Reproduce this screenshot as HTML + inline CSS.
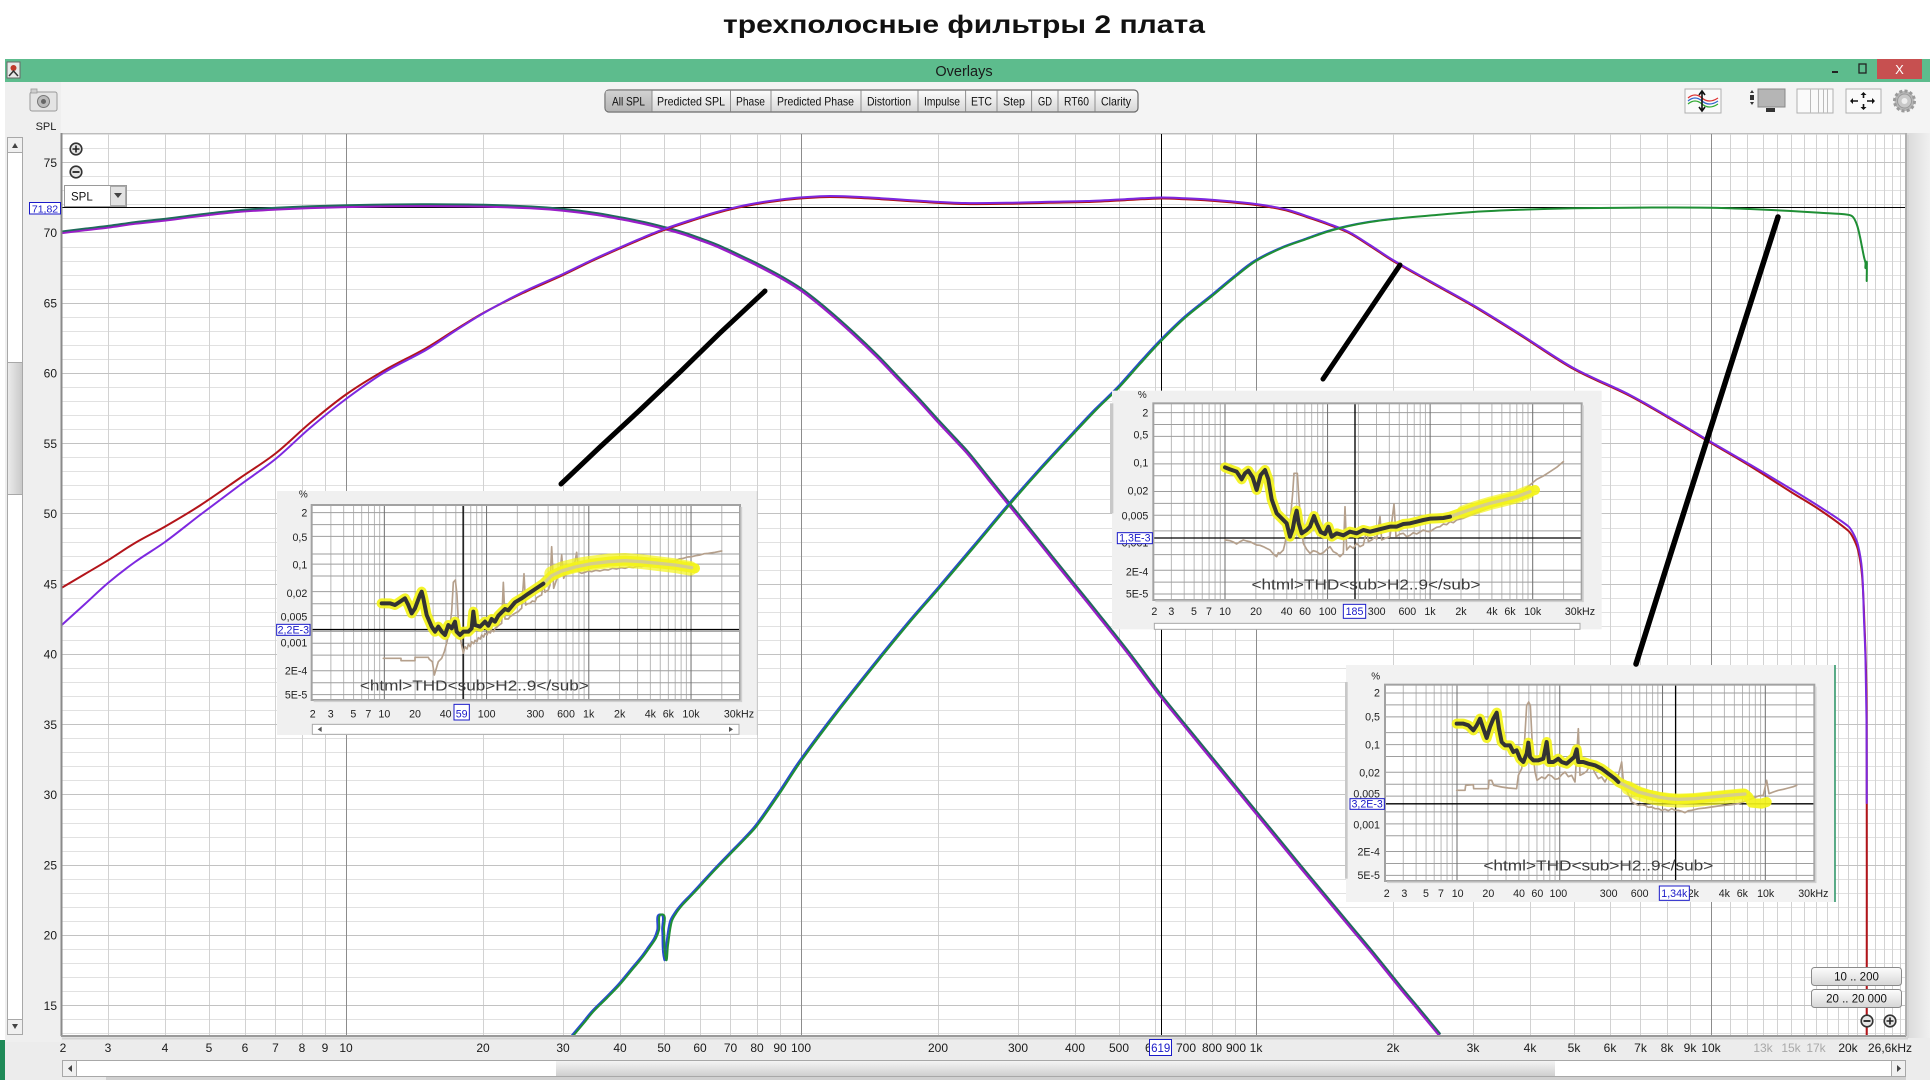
<!DOCTYPE html>
<html><head><meta charset="utf-8"><style>
html,body{margin:0;padding:0;background:#fff;overflow:hidden;}
svg{display:block;font-family:"Liberation Sans",Arial,sans-serif;}
</style></head><body>
<svg xmlns="http://www.w3.org/2000/svg" width="1930" height="1080" viewBox="0 0 1930 1080">
<defs>
<linearGradient id="btn" x1="0" y1="0" x2="0" y2="1"><stop offset="0" stop-color="#fdfdfd"/><stop offset="1" stop-color="#d6d6d6"/></linearGradient>
<linearGradient id="btnp" x1="0" y1="0" x2="0" y2="1"><stop offset="0" stop-color="#d2d2d2"/><stop offset="1" stop-color="#b4b4b4"/></linearGradient>
<linearGradient id="thumbh" x1="0" y1="0" x2="0" y2="1"><stop offset="0" stop-color="#f4f4f4"/><stop offset="1" stop-color="#cfcfcf"/></linearGradient>
<linearGradient id="thumbv" x1="0" y1="0" x2="1" y2="0"><stop offset="0" stop-color="#ececec"/><stop offset="1" stop-color="#c8c8c8"/></linearGradient>
<linearGradient id="rside" x1="0" y1="0" x2="1" y2="0"><stop offset="0" stop-color="#d8d8d8"/><stop offset="1" stop-color="#f0f0f0"/></linearGradient>
<clipPath id="plotclip"><rect x="61" y="133" width="1844" height="902"/></clipPath>
<clipPath id="lowclip"><rect x="400" y="133" width="1000" height="902"/></clipPath>
<path id="woof" class="sm" fill="none" d="M60.7,233 L85,230 108,227.3 135,223.5 165,220.3 190,217 209,214.7 240,211.5 275.5,209.3 310,207.8 346,206.8 390,206 426,205.8 483,206.3 530,208 563,210.5 595,214.5 620,218.9 643,223.5 664,228.7 683,234 700,240 716,246 730.5,252.6 745,259.5 757,265.3 780,277.5 801,290.5 827,311 853,334 877,357 899,380 919,401 938,422 953,438 967,453 988,479 1009,505 1030,531 1050,556 1075,587 1100,618 1130,656 1161,697 1200,745 1250,806 1300,867 1350,927 1375,957 1400,988 1420,1012 1439,1035"/>
<path id="tw" class="sm" fill="none" d="M573.9,1035 L584,1023 593.6,1011.3 607,998 619.9,984.6 632,970 643.2,956.5 650,947 655.9,938.3 659,930 662,914.4 664,930 666,959.3 668,945 671.8,921.4 677,912 682.9,904.5 692,895 700.1,886.3 715,870 730.5,853.9 745,839 756.9,825.9 780,793 801,761.2 840,709 881,657.3 910,622 937.9,589.8 975,546 1009.4,505 1042,468 1074.9,432.4 1097,409 1119,387.5 1140,364 1161,341.2 1186,317 1211.9,296.2 1235,277 1256,261 1282,248 1308,238.6 1328,231.5 1349,226 1370,222 1393,219 1430,215.5 1473,212 1520,209.8 1574,208.3 1640,207.6 1711,207.7 1750,209 1791,211 1820,212.8 1848,214.7 1853,217 1857,225 1860,237 1862,247 1864,257 1865.5,263 1866,268 1866.7,262 1866.7,281"/>
</defs>

<!-- page background -->
<rect x="0" y="0" width="1930" height="1080" fill="#ffffff"/>
<text x="723" y="33" font-size="25" font-weight="bold" fill="#111" textLength="482" lengthAdjust="spacingAndGlyphs">трехполосные фильтры 2 плата</text>

<!-- window body -->
<rect x="5" y="59" width="1925" height="1021" fill="#ececec"/>
<rect x="5" y="82" width="1925" height="51" fill="#f4f4f4"/>
<rect x="5" y="82" width="56" height="960" fill="#efefef"/>
<rect x="1905" y="133" width="25" height="905" fill="url(#rside)"/>
<rect x="0" y="1040" width="5" height="40" fill="#1f8a58"/>

<!-- title bar -->
<rect x="5" y="59" width="1925" height="23" fill="#5dbc8d"/>
<rect x="7" y="62" width="13" height="16" fill="#e8e8e8" stroke="#666" stroke-width="1"/>
<circle cx="13.5" cy="68" r="3" fill="#c0392b"/>
<path d="M9 76 L13.5 71 L18 76" fill="none" stroke="#333" stroke-width="1.5"/>
<text x="964" y="76" font-size="14.5" fill="#1a1a1a" text-anchor="middle">Overlays</text>
<rect x="1832" y="71" width="6" height="2" fill="#222"/>
<rect x="1859" y="64" width="7" height="9" fill="none" stroke="#222" stroke-width="1.3"/>
<rect x="1877" y="59" width="45" height="20" fill="#c75050"/>
<text x="1899.5" y="74" font-size="13" fill="#fff" text-anchor="middle">X</text>

<!-- camera icon -->
<rect x="30" y="92" width="27" height="19" rx="2" fill="#e4e4e4" stroke="#9a9a9a"/>
<rect x="31" y="89" width="6" height="4" fill="#cfcfcf" stroke="#9a9a9a" stroke-width="0.8"/>
<circle cx="43.5" cy="101.5" r="6" fill="#bbb" stroke="#777"/>
<circle cx="43.5" cy="101.5" r="2.5" fill="#666"/>
<text x="46" y="130" font-size="11" fill="#222" text-anchor="middle">SPL</text>

<!-- toolbar -->
<rect x="605" y="90" width="533" height="22" rx="4" fill="url(#btn)" stroke="#6a6a6a" stroke-width="1.2"/>
<path d="M605.6 92 Q605.6 90.6 609 90.6 L652 90.6 L652 111.4 L609 111.4 Q605.6 111.4 605.6 108 Z" fill="url(#btnp)"/>
<path d="M652 90.6V111.4M730.5 90.6V111.4M771 90.6V111.4M861 90.6V111.4M918 90.6V111.4M965.6 90.6V111.4M997 90.6V111.4M1031.6 90.6V111.4M1058 90.6V111.4M1095 90.6V111.4" stroke="#8e8e8e" stroke-width="1"/>
<g font-size="12" fill="#111" text-anchor="start">
<text x="612" y="105.5" textLength="33" lengthAdjust="spacingAndGlyphs">All SPL</text>
<text x="657" y="105.5" textLength="68" lengthAdjust="spacingAndGlyphs">Predicted SPL</text>
<text x="736" y="105.5" textLength="29" lengthAdjust="spacingAndGlyphs">Phase</text>
<text x="777" y="105.5" textLength="77" lengthAdjust="spacingAndGlyphs">Predicted Phase</text>
<text x="867" y="105.5" textLength="44" lengthAdjust="spacingAndGlyphs">Distortion</text>
<text x="924" y="105.5" textLength="36" lengthAdjust="spacingAndGlyphs">Impulse</text>
<text x="971" y="105.5" textLength="21" lengthAdjust="spacingAndGlyphs">ETC</text>
<text x="1003" y="105.5" textLength="22" lengthAdjust="spacingAndGlyphs">Step</text>
<text x="1038" y="105.5" textLength="14" lengthAdjust="spacingAndGlyphs">GD</text>
<text x="1064" y="105.5" textLength="25" lengthAdjust="spacingAndGlyphs">RT60</text>
<text x="1101" y="105.5" textLength="30" lengthAdjust="spacingAndGlyphs">Clarity</text>
</g>

<!-- right icons -->
<rect x="1685" y="89" width="36" height="24" fill="#fafafa" stroke="#b0b0b0"/>
<path d="M1688 98 Q1695 92 1702 98 T1718 98" fill="none" stroke="#d33" stroke-width="1.2"/>
<path d="M1688 101 Q1695 95 1702 101 T1718 101" fill="none" stroke="#36c" stroke-width="1.2"/>
<path d="M1688 104 Q1695 98 1702 104 T1718 104" fill="none" stroke="#3a3" stroke-width="1.2"/>
<path d="M1702 92V110M1699 95L1702 91L1705 95M1699 107L1702 111L1705 107" fill="none" stroke="#111" stroke-width="1.6"/>
<rect x="1758" y="89" width="27" height="18" fill="#b5b5b5" stroke="#888"/>
<rect x="1750" y="95" width="4" height="5" fill="#333"/>
<path d="M1752 90L1750 93H1754ZM1752 105L1750 102H1754Z" fill="#333"/>
<rect x="1766" y="108" width="9" height="4" fill="#333"/>
<rect x="1797" y="89" width="36" height="24" fill="#fafafa" stroke="#b0b0b0"/>
<path d="M1810.5 89V113M1818.5 89V113M1823.5 89V113M1827.5 89V113" stroke="#bbb"/>
<rect x="1846" y="89" width="35" height="24" fill="#fafafa" stroke="#b0b0b0"/>
<path d="M1851 101H1858M1874 101H1867M1863.5 93V98M1863.5 109V104" stroke="#111" stroke-width="1.6"/>
<path d="M1850 101L1853 98V104ZM1875 101L1872 98V104ZM1863.5 92L1860.5 95H1866.5ZM1863.5 110L1860.5 107H1866.5Z" fill="#111"/>
<circle cx="1904.5" cy="101" r="10" fill="#b8b8b8" stroke="#9a9a9a" stroke-width="3" stroke-dasharray="3 2.2"/>
<circle cx="1904.5" cy="101" r="7" fill="#c8c8c8" stroke="#999"/>
<circle cx="1904.5" cy="101" r="3" fill="#eee"/>

<!-- left vertical scrollbar -->
<rect x="7.5" y="137.5" width="15" height="897" fill="#fff" stroke="#a8a8a8"/>
<rect x="7.5" y="137.5" width="15" height="15" fill="#f0f0f0" stroke="#a8a8a8"/>
<path d="M12 148L15 143L18 148Z" fill="#444"/>
<rect x="7.5" y="362.5" width="15" height="132" fill="url(#thumbv)" stroke="#a8a8a8"/>
<rect x="7.5" y="1019.5" width="15" height="15" fill="#f0f0f0" stroke="#a8a8a8"/>
<path d="M12 1024L15 1029L18 1024Z" fill="#444"/>

<!-- plot background -->
<rect x="61" y="133" width="1844" height="902" fill="#fff"/>

<!-- grid -->
<path d="M61 1033.5H1905M61 1019.5H1905M61 991.5H1905M61 977.5H1905M61 963.5H1905M61 949.5H1905M61 921.5H1905M61 907.5H1905M61 893.5H1905M61 879.5H1905M61 851.5H1905M61 837.5H1905M61 823.5H1905M61 809.5H1905M61 780.5H1905M61 766.5H1905M61 752.5H1905M61 738.5H1905M61 710.5H1905M61 696.5H1905M61 682.5H1905M61 668.5H1905M61 640.5H1905M61 626.5H1905M61 612.5H1905M61 598.5H1905M61 570.5H1905M61 556.5H1905M61 542.5H1905M61 528.5H1905M61 499.5H1905M61 485.5H1905M61 471.5H1905M61 457.5H1905M61 429.5H1905M61 415.5H1905M61 401.5H1905M61 387.5H1905M61 359.5H1905M61 345.5H1905M61 331.5H1905M61 317.5H1905M61 289.5H1905M61 275.5H1905M61 261.5H1905M61 247.5H1905M61 218.5H1905M61 204.5H1905M61 190.5H1905M61 176.5H1905M61 148.5H1905M61 134.5H1905" stroke="#e1e1e1" stroke-width="1"/>
<path d="M108.5 133V1035M165.5 133V1035M209.5 133V1035M245.5 133V1035M275.5 133V1035M302.5 133V1035M325.5 133V1035M483.5 133V1035M563.5 133V1035M620.5 133V1035M664.5 133V1035M700.5 133V1035M730.5 133V1035M757.5 133V1035M780.5 133V1035M938.5 133V1035M1018.5 133V1035M1075.5 133V1035M1119.5 133V1035M1155.5 133V1035M1185.5 133V1035M1212.5 133V1035M1235.5 133V1035M1393.5 133V1035M1473.5 133V1035M1530.5 133V1035M1574.5 133V1035M1610.5 133V1035M1640.5 133V1035M1667.5 133V1035M1690.5 133V1035M1730.5 133V1035M1747.5 133V1035M1763.5 133V1035M1777.5 133V1035M1791.5 133V1035M1804.5 133V1035M1816.5 133V1035M1827.5 133V1035M1838.5 133V1035M1848.5 133V1035M1857.5 133V1035M1867.5 133V1035M1875.5 133V1035M1884.5 133V1035M1892.5 133V1035M1900.5 133V1035" stroke="#d2d2d2" stroke-width="1"/>
<path d="M61 1005.5H1905M61 935.5H1905M61 865.5H1905M61 794.5H1905M61 724.5H1905M61 654.5H1905M61 584.5H1905M61 513.5H1905M61 443.5H1905M61 373.5H1905M61 303.5H1905M61 232.5H1905M61 162.5H1905" stroke="#c2c2c2" stroke-width="1"/>
<path d="M346.5 133V1035M801.5 133V1035M1256.5 133V1035M1711.5 133V1035" stroke="#8c8c8c" stroke-width="1"/>

<!-- cursors -->
<path d="M61 207.5H1905M1161.5 133V1035" stroke="#000" stroke-width="1"/>

<!-- curves -->
<g clip-path="url(#plotclip)" fill="none" stroke-linejoin="round" stroke-linecap="round">
<use href="#woof" stroke="#9a1ec8" stroke-width="2.6"/>
<use href="#woof" stroke="#1f6b5b" stroke-width="1.8" transform="translate(1,-1.6)"/>
<path class="sm" stroke="#b3141a" stroke-width="2" d="M60.7,588.4 L85,574 108,560.3 135,543 165,526.6 200,505.5 240,478 275.5,453.5 310,423 346,394.5 385,370 426,348.2 455,330 483,313.1 523,293 563,275.1 592,261 620,248.4 643,238.5 664,230.1 693,220.3 715,213.5 738,207.7 760,203.5 780,200.6 800,198.5 825,197.1 850,197.5 881,199.2 920,201.8 965,204 1018,203.6 1050,202.8 1087,202 1125,200.2 1161,198.5 1185,199.2 1205,200.2 1227,202 1250,204.3 1273,207.7 1290,211.5 1308,217.5 1328,224.5 1349,233 1370,246 1393,261 1430,282 1473,306 1520,335 1574,369.3 1630,396 1680,424.5 1711,443 1750,466 1791,492 1820,510 1848,530.5 1853,537.5 1858,550 1862,575 1864.5,625 1866,670 1866.7,720 1866.7,1040"/>
<path class="sm" stroke="#7d28e0" stroke-width="2" d="M60.7,626 L85,604 108,583 135,562 165,542 200,515 240,485 275.5,459 310,428 346,399 385,372 426,350 455,331 483,313.5 523,292 563,274 592,260 620,247.4 643,237.5 664,229.1 693,219.3 715,212.5 738,206.7 760,202.5 780,199.6 800,197.5 825,196.1 850,196.5 881,198.2 920,200.8 965,203 1018,202.6 1050,201.8 1087,201 1125,199.2 1161,197.5 1185,198.2 1205,199.2 1227,201 1250,203.3 1273,206.7 1290,210.5 1308,216.5 1328,223.5 1349,232 1370,245 1393,260 1430,281 1473,305 1520,334 1574,368.3 1630,395 1680,423.5 1711,442 1750,464.5 1791,489 1820,507 1848,526 1853,533 1858,545 1862,570 1864,620 1865.5,660 1866.5,720 1866.7,803"/>
<use href="#tw" stroke="#2a4bd0" stroke-width="2" transform="translate(-1.8,0)" clip-path="url(#lowclip)"/>
<use href="#tw" stroke="#1f8f35" stroke-width="2"/>
</g>

<!-- plot frame shading -->
<path d="M61 133.5H1905" stroke="#bdbdbd" stroke-width="1"/>
<path d="M61.5 133V1036" stroke="#8a8a8a" stroke-width="2"/>
<path d="M61 1036H1906" stroke="#9a9a9a" stroke-width="2"/>
<path d="M1906 133V1036" stroke="#b0b0b0" stroke-width="2"/>
<path d="M1908 135V1038M62 1038.5H1908" stroke="#d4d4d4" stroke-width="2"/>

<!-- plot controls -->
<circle cx="76" cy="149" r="5.8" fill="#e6e6e6" stroke="#333" stroke-width="1.6"/>
<path d="M72.5 149H79.5M76 145.5V152.5" stroke="#222" stroke-width="1.6"/>
<circle cx="76" cy="172" r="5.8" fill="#e6e6e6" stroke="#333" stroke-width="1.6"/>
<path d="M72.5 172H79.5" stroke="#222" stroke-width="1.8"/>
<rect x="64.5" y="185.5" width="62" height="21" fill="#fff" stroke="#9a9a9a"/>
<text x="71" y="200.5" font-size="11.5" fill="#111">SPL</text>
<rect x="110.5" y="186.5" width="15" height="19" fill="#e2e2e2" stroke="#aaa"/>
<path d="M114 193L118 198L122 193Z" fill="#444"/>

<!-- y axis labels -->
<g font-size="12" fill="#1a1a1a" text-anchor="end">
<text x="57" y="167">75</text><text x="57" y="237">70</text><text x="57" y="307.5">65</text><text x="57" y="377.5">60</text><text x="57" y="448">55</text><text x="57" y="518">50</text><text x="57" y="588.5">45</text><text x="57" y="658.5">40</text><text x="57" y="729">35</text><text x="57" y="799">30</text><text x="57" y="869.5">25</text><text x="57" y="939.5">20</text><text x="57" y="1010">15</text>
</g>
<rect x="29.5" y="202.5" width="31" height="11.5" fill="#fff" stroke="#1a1ac8" stroke-width="1"/>
<text x="45" y="212.3" font-size="10.5" fill="#1a1ac8" text-anchor="middle">71,82</text>

<!-- x axis labels -->
<g font-size="12" fill="#1a1a1a" text-anchor="middle">
<text x="63" y="1052">2</text><text x="108" y="1052">3</text><text x="165" y="1052">4</text><text x="209" y="1052">5</text><text x="245" y="1052">6</text><text x="275.5" y="1052">7</text><text x="302" y="1052">8</text><text x="325" y="1052">9</text><text x="346" y="1052">10</text><text x="483" y="1052">20</text><text x="563" y="1052">30</text><text x="620" y="1052">40</text><text x="664" y="1052">50</text><text x="700" y="1052">60</text><text x="730.5" y="1052">70</text><text x="757" y="1052">80</text><text x="780" y="1052">90</text><text x="801" y="1052">100</text><text x="938" y="1052">200</text><text x="1018" y="1052">300</text><text x="1075" y="1052">400</text><text x="1119" y="1052">500</text><text x="1155" y="1052">600</text><text x="1186" y="1052">700</text><text x="1212" y="1052">800</text><text x="1236" y="1052">900</text><text x="1256" y="1052">1k</text><text x="1393" y="1052">2k</text><text x="1473" y="1052">3k</text><text x="1530" y="1052">4k</text><text x="1574" y="1052">5k</text><text x="1610" y="1052">6k</text><text x="1640.5" y="1052">7k</text><text x="1667" y="1052">8k</text><text x="1690" y="1052">9k</text><text x="1711" y="1052">10k</text><text x="1763" y="1052" fill="#a8a8a8">13k</text><text x="1791" y="1052" fill="#a8a8a8">15k</text><text x="1816" y="1052" fill="#a8a8a8">17k</text><text x="1848" y="1052">20k</text><text x="1890" y="1052">26,6kHz</text>
</g>
<rect x="1149.5" y="1039.5" width="22" height="16" fill="#fff" stroke="#1a1ac8" stroke-width="1"/>
<text x="1160.7" y="1052" font-size="11.5" fill="#1a1ac8" text-anchor="middle">619</text>

<!-- bottom scrollbar -->
<rect x="62.5" y="1060.5" width="1843" height="16" fill="#fff" stroke="#a8a8a8"/>
<rect x="62.5" y="1060.5" width="14" height="16" fill="#f0f0f0" stroke="#a8a8a8"/>
<path d="M72 1065L68 1068.5L72 1072Z" fill="#444"/>
<rect x="556" y="1061" width="999" height="15" fill="url(#thumbh)"/>
<rect x="1891.5" y="1060.5" width="14" height="16" fill="#f0f0f0" stroke="#a8a8a8"/>
<path d="M1897 1065L1901 1068.5L1897 1072Z" fill="#444"/>
<rect x="106" y="1077" width="1800" height="3" fill="#d0d0d0"/>

<!-- range buttons -->
<rect x="1811.5" y="967.5" width="90" height="18" rx="3" fill="url(#btn)" stroke="#8a8a8a"/>
<text x="1856.5" y="980.5" font-size="11.5" fill="#111" text-anchor="middle">10 .. 200</text>
<rect x="1811.5" y="989.5" width="90" height="18" rx="3" fill="url(#btn)" stroke="#8a8a8a"/>
<text x="1856.5" y="1002.5" font-size="11.5" fill="#111" text-anchor="middle">20 .. 20 000</text>
<circle cx="1867" cy="1021" r="5.8" fill="#e6e6e6" stroke="#333" stroke-width="1.6"/>
<path d="M1863.5 1021H1870.5" stroke="#222" stroke-width="1.8"/>
<circle cx="1890" cy="1021" r="5.8" fill="#e6e6e6" stroke="#333" stroke-width="1.6"/>
<path d="M1886.5 1021H1893.5M1890 1017.5V1024.5" stroke="#222" stroke-width="1.6"/>

<!-- ================= INSET 1 ================= -->
<g transform="translate(275,495) scale(0.333333)" font-family="Liberation Sans, Arial, sans-serif">
<rect x="6" y="-12" width="1441" height="732" fill="#f0f0f0"/>
<path d="M1447 -12V720" stroke="#c8c8c8" stroke-width="3"/>
<rect x="110" y="30" width="1285" height="585" fill="#fff"/>
<path d="M167.6 30V615M206 30V615M235.7 30V615M260 30V615M280.5 30V615M298.3 30V615M314 30V615M420.3 30V615M474.3 30V615M512.7 30V615M542.4 30V615M566.7 30V615M587.2 30V615M605 30V615M620.7 30V615M727 30V615M781 30V615M819.4 30V615M849.1 30V615M873.4 30V615M893.9 30V615M911.7 30V615M927.4 30V615M1033.7 30V615M1087.7 30V615M1126.1 30V615M1155.8 30V615M1180.1 30V615M1200.6 30V615M1218.4 30V615M1234.1 30V615M1340.4 30V615" stroke="#b8b8b8" stroke-width="3"/>
<path d="M110 53H1395M110 88.7H1395M110 124.3H1395M110 177H1395M110 207.2H1395M110 242.9H1395M110 290H1395M110 326.2H1395M110 361.8H1395M110 409H1395M110 444.7H1395M110 480.4H1395M110 527.4H1395M110 563.1H1395M110 598.8H1395" stroke="#9e9e9e" stroke-width="3"/>
<path d="M328 30V615M634.7 30V615M941.4 30V615M1248.1 30V615" stroke="#6e6e6e" stroke-width="3"/>
<path d="M564.4 30V615M110 403.6H1395" stroke="#000" stroke-width="4"/>
<g fill="none" stroke-linejoin="round" stroke-linecap="round">
<polyline stroke="#b5a08c" stroke-width="5" points="325,490 378,490 378,497 420,497 420,487 460,487 463,493 472,500 478,540 484,520 490,500 500,490 508,470 516,440 524,400 530,350 535,262 541,255 546,300 551,400 558,440 565,475 570,455 576,462 580,448 586,455 590,440 596,446 600,436 606,440 610,428 616,432 620,420 626,426 630,415 636,420 640,410 646,414 650,405 656,410 660,400 666,396 670,392 676,388 680,385 685,262 690,372 700,372 705,365 710,362 715,358 720,355 725,352 730,350 735,344 740,340 747,236 752,330 758,326 765,325 772,318 780,320 785,308 790,305 795,302 800,300 805,262 810,292 815,288 820,285 825,270 830,155 836,280 842,262 850,240 855,235 860,180 866,250 872,235 880,222 885,226 890,215 898,210 905,172 910,230 920,235 930,232 940,228 950,230 962,226 975,228 988,224 1000,225 1012,220 1025,222 1038,218 1050,220 1062,216 1075,218 1088,213 1100,215 1112,210 1125,212 1138,207 1150,210 1162,204 1175,205 1188,200 1200,198 1212,192 1225,190 1238,186 1250,185 1262,182 1275,180 1288,176 1300,175 1320,172 1340,168"/>
<polyline stroke="#f3f31a" stroke-opacity="0.92" stroke-width="30" points="320,325 345,325 360,330 375,320 390,310 400,330 410,355 420,340 435,300 440,290 445,310 455,360 470,395 480,410 490,395 500,410 510,420 520,390 530,400 540,380 545,410 555,420 565,410 580,410 590,400 595,350 600,390 615,395 630,380 640,392 650,372 660,380 670,362 680,352 690,342 700,346 720,322 740,310 760,296 790,276 805,266 830,242 860,228 900,216 950,206 1000,200 1050,197 1100,200 1150,205 1200,210 1230,215 1260,220"/>
<polyline stroke="#f3f31a" stroke-opacity="0.7" stroke-width="44" points="830,236 860,222 900,212 950,204 1000,198 1050,196 1100,200 1150,206 1200,212 1245,220"/>
<polyline stroke="#d6cf8a" stroke-width="10" points="805,266 830,242 860,228 900,216 950,206 1000,200 1050,197 1100,200 1150,205 1200,210 1230,215 1250,218"/>
<polyline stroke="#333" stroke-width="12" points="320,325 345,325 360,330 375,320 390,310 400,330 410,355 420,340 435,300 440,290 445,310 455,360 470,395 480,410 490,395 500,410 510,420 520,390 530,400 540,380 545,410 555,420 565,410 580,410 590,400 595,350 600,390 615,395 630,380 640,392 650,372 660,380 670,362 680,352 690,342 700,346 720,322 740,310 760,296 790,276 805,266"/>
</g>
<rect x="110" y="30" width="1285" height="585" fill="none" stroke="#a2a2a2" stroke-width="6"/>
<path d="M1399 36V619H116" fill="none" stroke="#d0d0d0" stroke-width="5"/>
<text x="598" y="587" font-size="45" fill="#3c3c3c" text-anchor="middle" textLength="687" lengthAdjust="spacingAndGlyphs">&lt;html&gt;THD&lt;sub&gt;H2..9&lt;/sub&gt;</text>
<text x="85" y="8" font-size="30" fill="#222" text-anchor="middle">%</text>
<g font-size="32" fill="#222" text-anchor="end">
<text x="97" y="64">2</text><text x="97" y="138">0,5</text><text x="97" y="221">0,1</text><text x="97" y="306">0,02</text><text x="97" y="376">0,005</text><text x="97" y="454">0,001</text><text x="97" y="538">2E-4</text><text x="97" y="611">5E-5</text>
</g>
<rect x="5" y="388" width="100" height="33" fill="#fff" stroke="#1a1ac8" stroke-width="3"/>
<text x="55" y="415" font-size="32" fill="#1a1ac8" text-anchor="middle">2,2E-3</text>
<g font-size="32" fill="#222" text-anchor="middle">
<text x="113" y="667">2</text><text x="167" y="667">3</text><text x="235" y="667">5</text><text x="280" y="667">7</text><text x="328" y="667">10</text><text x="420" y="667">20</text><text x="512" y="667">40</text><text x="635" y="667">100</text><text x="781" y="667">300</text><text x="873" y="667">600</text><text x="941" y="667">1k</text><text x="1034" y="667">2k</text><text x="1126" y="667">4k</text><text x="1180" y="667">6k</text><text x="1248" y="667">10k</text><text x="1392" y="667">30kHz</text>
</g>
<rect x="537" y="628" width="46" height="47" fill="#fff" stroke="#1a1ac8" stroke-width="3"/>
<text x="560" y="667" font-size="32" fill="#1a1ac8" text-anchor="middle">59</text>
<rect x="112" y="688" width="1280" height="30" fill="#fff" stroke="#a8a8a8" stroke-width="3"/>
<path d="M140 695L128 703L140 711Z" fill="#555"/>
<path d="M1362 695L1374 703L1362 711Z" fill="#555"/>
</g>

<!-- ================= INSET 2 ================= -->
<g transform="translate(1110,390) scale(0.333333)" font-family="Liberation Sans, Arial, sans-serif">
<rect x="6" y="2" width="1469" height="716" fill="#f0f0f0"/>
<rect x="0" y="40" width="10" height="330" fill="#c8c8c8"/>
<rect x="130" y="40" width="1285" height="590" fill="#fff"/>
<path d="M184.1 40V630M222.6 40V630M252.4 40V630M276.8 40V630M297.3 40V630M315.2 40V630M330.9 40V630M437.6 40V630M491.8 40V630M530.3 40V630M560.1 40V630M584.5 40V630M605 40V630M622.9 40V630M638.6 40V630M745.3 40V630M799.5 40V630M838 40V630M867.8 40V630M892.2 40V630M912.7 40V630M930.6 40V630M946.3 40V630M1053 40V630M1107.2 40V630M1145.7 40V630M1175.5 40V630M1199.9 40V630M1220.4 40V630M1238.3 40V630M1254 40V630M1360.7 40V630" stroke="#b8b8b8" stroke-width="3"/>
<path d="M130 68H1415M130 103.6H1415M130 139.2H1415M130 186.2H1415M130 221.8H1415M130 257.4H1415M130 304.4H1415M130 340H1415M130 375.6H1415M130 422.6H1415M130 458.2H1415M130 493.8H1415M130 540.8H1415M130 576.4H1415M130 612H1415" stroke="#9e9e9e" stroke-width="3"/>
<path d="M345 40V630M652.7 40V630M960.4 40V630M1268.1 40V630" stroke="#6e6e6e" stroke-width="3"/>
<path d="M735 40V630M130 444H1415" stroke="#000" stroke-width="4"/>
<g fill="none" stroke-linejoin="round" stroke-linecap="round">
<polyline stroke="#b5a08c" stroke-width="5" points="345,450 360,452 370,456 380,462 390,455 400,450 410,453 420,455 430,460 440,465 450,466 460,470 470,475 480,480 490,492 500,500 505,488 510,490 520,480 525,460 530,430 540,400 548,310 552,250 562,250 567,330 573,400 580,460 590,478 600,490 610,482 620,485 630,492 640,488 650,478 660,470 670,485 680,490 690,500 700,490 705,350 710,480 720,468 730,475 740,460 750,470 760,465 770,420 775,455 785,450 795,440 800,448 810,380 815,450 825,445 840,440 852,342 858,440 870,432 880,430 890,440 900,436 910,428 920,432 930,426 940,420 950,424 960,425 970,418 980,412 990,410 1000,402 1010,404 1020,395 1030,398 1040,390 1060,385 1080,375 1100,368 1120,360 1140,352 1160,345 1180,338 1200,330 1220,318 1240,300 1260,285 1280,268 1300,258 1320,245 1340,232 1360,215"/>
<polyline stroke="#f3f31a" stroke-opacity="0.92" stroke-width="30" points="345,232 360,238 380,245 395,268 405,250 415,242 428,262 440,300 452,255 465,240 475,268 485,328 500,370 515,385 530,400 540,440 548,418 555,380 560,362 566,400 575,430 590,420 600,410 612,378 620,400 632,426 645,432 655,410 665,440 680,430 700,436 720,425 740,430 760,420 780,425 800,420 820,415 840,410 860,410 880,402 900,400 920,395 940,390 960,386 980,385 1000,384 1020,380 1060,366 1100,352 1140,340 1180,330 1220,320 1260,305 1275,300"/>
<polyline stroke="#f3f31a" stroke-opacity="0.7" stroke-width="40" points="1060,366 1100,352 1140,340 1180,330 1220,320 1255,306"/>
<polyline stroke="#d6cf8a" stroke-width="10" points="1020,380 1060,366 1100,352 1140,340 1180,330 1220,320 1260,305"/>
<polyline stroke="#333" stroke-width="12" points="345,232 360,238 380,245 395,268 405,250 415,242 428,262 440,300 452,255 465,240 475,268 485,328 500,370 515,385 530,400 540,440 548,418 555,380 560,362 566,400 575,430 590,420 600,410 612,378 620,400 632,426 645,432 655,410 665,440 680,430 700,436 720,425 740,430 760,420 780,425 800,420 820,415 840,410 860,410 880,402 900,400 920,395 940,390 960,386 980,385 1000,384 1020,380"/>
</g>
<rect x="130" y="40" width="1285" height="590" fill="none" stroke="#a2a2a2" stroke-width="6"/>
<path d="M1419 46V634H136" fill="none" stroke="#d0d0d0" stroke-width="5"/>
<text x="768" y="598" font-size="45" fill="#3c3c3c" text-anchor="middle" textLength="687" lengthAdjust="spacingAndGlyphs">&lt;html&gt;THD&lt;sub&gt;H2..9&lt;/sub&gt;</text>
<text x="97" y="24" font-size="30" fill="#222" text-anchor="middle">%</text>
<g font-size="32" fill="#222" text-anchor="end">
<text x="115" y="79">2</text><text x="115" y="146">0,5</text><text x="115" y="229">0,1</text><text x="115" y="313">0,02</text><text x="115" y="388">0,005</text><text x="115" y="469">0,001</text><text x="115" y="556">2E-4</text><text x="115" y="623">5E-5</text>
</g>
<rect x="22" y="428" width="105" height="33" fill="#fff" stroke="#1a1ac8" stroke-width="3"/>
<text x="74.5" y="455" font-size="32" fill="#1a1ac8" text-anchor="middle">1,3E-3</text>
<g font-size="32" fill="#222" text-anchor="middle">
<text x="133" y="675">2</text><text x="184" y="675">3</text><text x="252" y="675">5</text><text x="297" y="675">7</text><text x="345" y="675">10</text><text x="438" y="675">20</text><text x="530" y="675">40</text><text x="585" y="675">60</text><text x="653" y="675">100</text><text x="800" y="675">300</text><text x="892" y="675">600</text><text x="960" y="675">1k</text><text x="1053" y="675">2k</text><text x="1146" y="675">4k</text><text x="1200" y="675">6k</text><text x="1268" y="675">10k</text><text x="1410" y="675">30kHz</text>
</g>
<rect x="700" y="643" width="67" height="42" fill="#fff" stroke="#1a1ac8" stroke-width="3"/>
<text x="733.5" y="675" font-size="32" fill="#1a1ac8" text-anchor="middle">185</text>
<rect x="133" y="700" width="1277" height="18" fill="#fff" stroke="#a8a8a8" stroke-width="3"/>
</g>

<!-- ================= INSET 3 ================= -->
<g transform="translate(1345,662) scale(0.333333)" font-family="Liberation Sans, Arial, sans-serif">
<rect x="3" y="9" width="1467" height="711" fill="#f2f2f2"/>
<rect x="0" y="60" width="8" height="590" fill="#c8c8c8"/>
<path d="M1470 9V720" stroke="#3a9c70" stroke-width="5"/>
<rect x="120" y="68" width="1288" height="589" fill="#fff"/>
<path d="M174.8 68V657M213.3 68V657M243.2 68V657M267.6 68V657M288.2 68V657M306.1 68V657M321.9 68V657M428.8 68V657M483.1 68V657M521.6 68V657M551.5 68V657M575.9 68V657M596.5 68V657M614.4 68V657M630.2 68V657M737.1 68V657M791.4 68V657M829.9 68V657M859.8 68V657M884.2 68V657M904.8 68V657M922.7 68V657M938.5 68V657M1045.4 68V657M1099.7 68V657M1138.2 68V657M1168.1 68V657M1192.5 68V657M1213.1 68V657M1231 68V657M1246.8 68V657M1353.7 68V657" stroke="#b8b8b8" stroke-width="3"/>
<path d="M120 93H1408M120 128.8H1408M120 164.6H1408M120 211.9H1408M120 247.7H1408M120 283.5H1408M120 330.8H1408M120 366.6H1408M120 402.4H1408M120 449.8H1408M120 485.5H1408M120 521.3H1408M120 568.6H1408M120 604.4H1408M120 640.2H1408" stroke="#9e9e9e" stroke-width="3"/>
<path d="M336 68V657M644.3 68V657M952.6 68V657M1260.9 68V657" stroke="#6e6e6e" stroke-width="3"/>
<path d="M991.8 68V657M120 425.4H1408" stroke="#000" stroke-width="4"/>
<g fill="none" stroke-linejoin="round" stroke-linecap="round">
<polyline stroke="#b5a08c" stroke-width="5" points="335,385 360,385 362,370 385,368 386,380 430,380 432,355 440,355 446,370 470,375 490,378 515,380 520,340 530,320 538,250 545,130 551,120 556,130 562,250 570,330 576,355 590,345 600,350 610,338 620,342 630,352 640,350 650,338 660,330 670,344 680,340 690,360 700,200 705,340 715,335 725,328 740,300 748,330 760,350 770,345 780,360 790,340 800,330 808,355 815,360 830,300 836,370 845,385 860,420 870,425 880,430 890,428 900,430 910,436 920,435 930,440 940,440 950,445 960,442 970,446 980,440 990,445 1000,445 1010,448 1020,452 1030,446 1040,445 1060,440 1080,438 1100,435 1120,432 1140,430 1160,428 1180,425 1200,418 1220,410 1240,402 1255,400 1265,355 1272,395 1285,390 1300,385 1315,382 1330,378 1345,374 1355,370"/>
<polyline stroke="#f3f31a" stroke-opacity="0.92" stroke-width="30" points="335,185 355,185 370,190 385,205 395,190 405,170 415,200 425,228 435,195 445,170 455,152 462,200 470,240 480,250 495,250 505,270 515,265 525,290 535,300 545,275 550,242 555,285 565,295 580,295 595,290 605,240 612,300 625,300 640,290 650,300 665,305 688,285 695,262 700,300 715,300 730,305 750,310 770,320 790,335 810,350 820,360 850,375 880,390 910,398 940,405 970,410 1000,412 1050,410 1100,405 1150,400 1200,396 1210,405 1220,422 1250,425 1265,420"/>
<polyline stroke="#f3f31a" stroke-opacity="0.7" stroke-width="42" points="850,378 880,394 910,404 940,410 970,414 1000,416 1050,414 1100,409 1150,404 1195,400"/>
<polyline stroke="#d6cf8a" stroke-width="10" points="820,360 850,375 880,390 910,398 940,405 970,410 1000,412 1050,410 1100,405 1150,400 1200,396"/>
<polyline stroke="#333" stroke-width="12" points="335,185 355,185 370,190 385,205 395,190 405,170 415,200 425,228 435,195 445,170 455,152 462,200 470,240 480,250 495,250 505,270 515,265 525,290 535,300 545,275 550,242 555,285 565,295 580,295 595,290 605,240 612,300 625,300 640,290 650,300 665,305 688,285 695,262 700,300 715,300 730,305 750,310 770,320 790,335 810,350 820,360"/>
</g>
<rect x="120" y="68" width="1288" height="589" fill="none" stroke="#a2a2a2" stroke-width="6"/>
<path d="M1412 74V661H126" fill="none" stroke="#d0d0d0" stroke-width="5"/>
<text x="760" y="625" font-size="45" fill="#3c3c3c" text-anchor="middle" textLength="690" lengthAdjust="spacingAndGlyphs">&lt;html&gt;THD&lt;sub&gt;H2..9&lt;/sub&gt;</text>
<text x="92" y="52" font-size="30" fill="#222" text-anchor="middle">%</text>
<g font-size="32" fill="#222" text-anchor="end">
<text x="105" y="104">2</text><text x="105" y="176">0,5</text><text x="105" y="259">0,1</text><text x="105" y="343">0,02</text><text x="105" y="406">0,005</text><text x="105" y="499">0,001</text><text x="105" y="581">2E-4</text><text x="105" y="651">5E-5</text>
</g>
<rect x="15" y="410" width="103" height="32" fill="#fff" stroke="#1a1ac8" stroke-width="3"/>
<text x="66.5" y="437" font-size="32" fill="#1a1ac8" text-anchor="middle">3,2E-3</text>
<g font-size="32" fill="#222" text-anchor="middle">
<text x="125" y="705">2</text><text x="178" y="705">3</text><text x="243" y="705">5</text><text x="288" y="705">7</text><text x="338" y="705">10</text><text x="430" y="705">20</text><text x="522" y="705">40</text><text x="577" y="705">60</text><text x="640" y="705">100</text><text x="791" y="705">300</text><text x="884" y="705">600</text><text x="1045" y="705">2k</text><text x="1138" y="705">4k</text><text x="1192" y="705">6k</text><text x="1262" y="705">10k</text><text x="1405" y="705">30kHz</text>
</g>
<rect x="943" y="672" width="90" height="43" fill="#fff" stroke="#1a1ac8" stroke-width="3"/>
<text x="988" y="705" font-size="32" fill="#1a1ac8" text-anchor="middle">1,34k</text>
</g>

<!-- hand-drawn annotation lines -->
<g fill="none" stroke="#000" stroke-linecap="round" stroke-linejoin="round">
<polyline stroke-width="5" points="561,484 600,447 640,410 680,372 720,333 765,291"/>
<polyline stroke-width="5" points="1323,379 1350,339 1375,302 1400,265"/>
<polyline stroke-width="5.5" points="1636,664 1670,556 1705,446 1740,336 1778,217"/>
</g>
</svg>
<script>
(function(){
  function smooth(el){
    var d=el.getAttribute('d');
    var nums=(d.match(/-?\d+(\.\d+)?/g)||[]).map(Number);
    var p=[];
    for(var i=0;i+1<nums.length;i+=2)p.push([nums[i],nums[i+1]]);
    if(p.length<3)return;
    var s='M'+p[0][0]+','+p[0][1];
    for(var i=0;i<p.length-1;i++){
      var p0=p[i>0?i-1:i],p1=p[i],p2=p[i+1],p3=p[i+2<p.length?i+2:i+1];
      var L=Math.sqrt((p2[0]-p1[0])*(p2[0]-p1[0])+(p2[1]-p1[1])*(p2[1]-p1[1]));
      var t1x=p2[0]-p0[0],t1y=p2[1]-p0[1],n1=Math.sqrt(t1x*t1x+t1y*t1y)||1;
      var t2x=p3[0]-p1[0],t2y=p3[1]-p1[1],n2=Math.sqrt(t2x*t2x+t2y*t2y)||1;
      var c1x=p1[0]+t1x/n1*L/3,c1y=p1[1]+t1y/n1*L/3;
      var c2x=p2[0]-t2x/n2*L/3,c2y=p2[1]-t2y/n2*L/3;
      s+=' C'+c1x.toFixed(2)+','+c1y.toFixed(2)+' '+c2x.toFixed(2)+','+c2y.toFixed(2)+' '+p2[0]+','+p2[1];
    }
    el.setAttribute('d',s);
  }
  var els=document.querySelectorAll('path.sm');
  for(var k=0;k<els.length;k++){try{smooth(els[k]);}catch(e){}}
})();
</script>
</body></html>
